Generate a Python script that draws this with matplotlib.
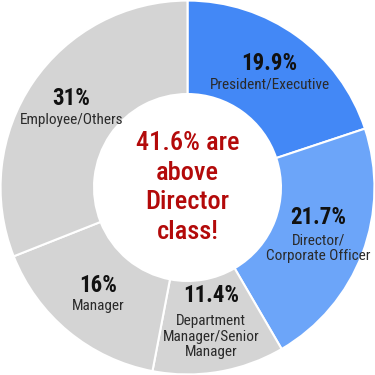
import numpy as np
import matplotlib
matplotlib.use('Agg')
import matplotlib.pyplot as plt

# --- Data ---
categorias = ['President/Executive', 'Director/\nCorporate Officer',
              'Department\nManager/Senior\nManager', 'Manager', 'Employee/Others']
porcentajes = [19.9, 21.7, 11.4, 16, 31]
etiquetas_pct = ['19.9%', '21.7%', '11.4%', '16%', '31%']
colores = ['#4388f6', '#6ca5f9', '#d4d4d4', '#d4d4d4', '#d4d4d4']
texto_centro = '41.6% are\nabove\nDirector\nclass!'

fuente = ['Roboto Condensed', 'Barlow Condensed', 'DejaVu Sans']

fig = plt.figure(figsize=(3.75, 3.75), dpi=100)
ax = fig.add_axes([0, 0, 1, 1])

wedges, _ = ax.pie(porcentajes, colors=colores, startangle=90, counterclock=False,
                   radius=1.0, wedgeprops=dict(width=0.5, edgecolor='white', linewidth=1.5))
ax.set_xlim(-1.003, 1.003)
ax.set_ylim(-1.003, 1.003)
ax.set_aspect('equal')
ax.axis('off')

# --- Labels ---
px = 1 / 187.5  # data units per pixel
r_lab = 0.75
acumulado = 0
for pct, lab, cat in zip(porcentajes, etiquetas_pct, categorias):
    medio = 90 - (acumulado + pct / 2) * 3.6
    acumulado += pct
    x = r_lab * np.cos(np.radians(medio))
    y = r_lab * np.sin(np.radians(medio))
    n = cat.count('\n') + 1
    alto = 22 + 20 * n
    y_pct = y + (alto / 2 - 11) * px
    ax.text(x, y_pct, lab, ha='center', va='center', fontsize=16.5,
            fontweight='bold', family=fuente, color='#111111')
    ax.text(x, y_pct - (11 + 10 * n) * px, cat, ha='center', va='center', fontsize=11,
            family=fuente, color='#2a2a2a', linespacing=1.15)

ax.text(0, 0, texto_centro, ha='center', va='center', fontsize=19,
        fontweight='medium', family=fuente, color='#b30a0a', linespacing=1.3)

plt.savefig('out.png', dpi=100)
